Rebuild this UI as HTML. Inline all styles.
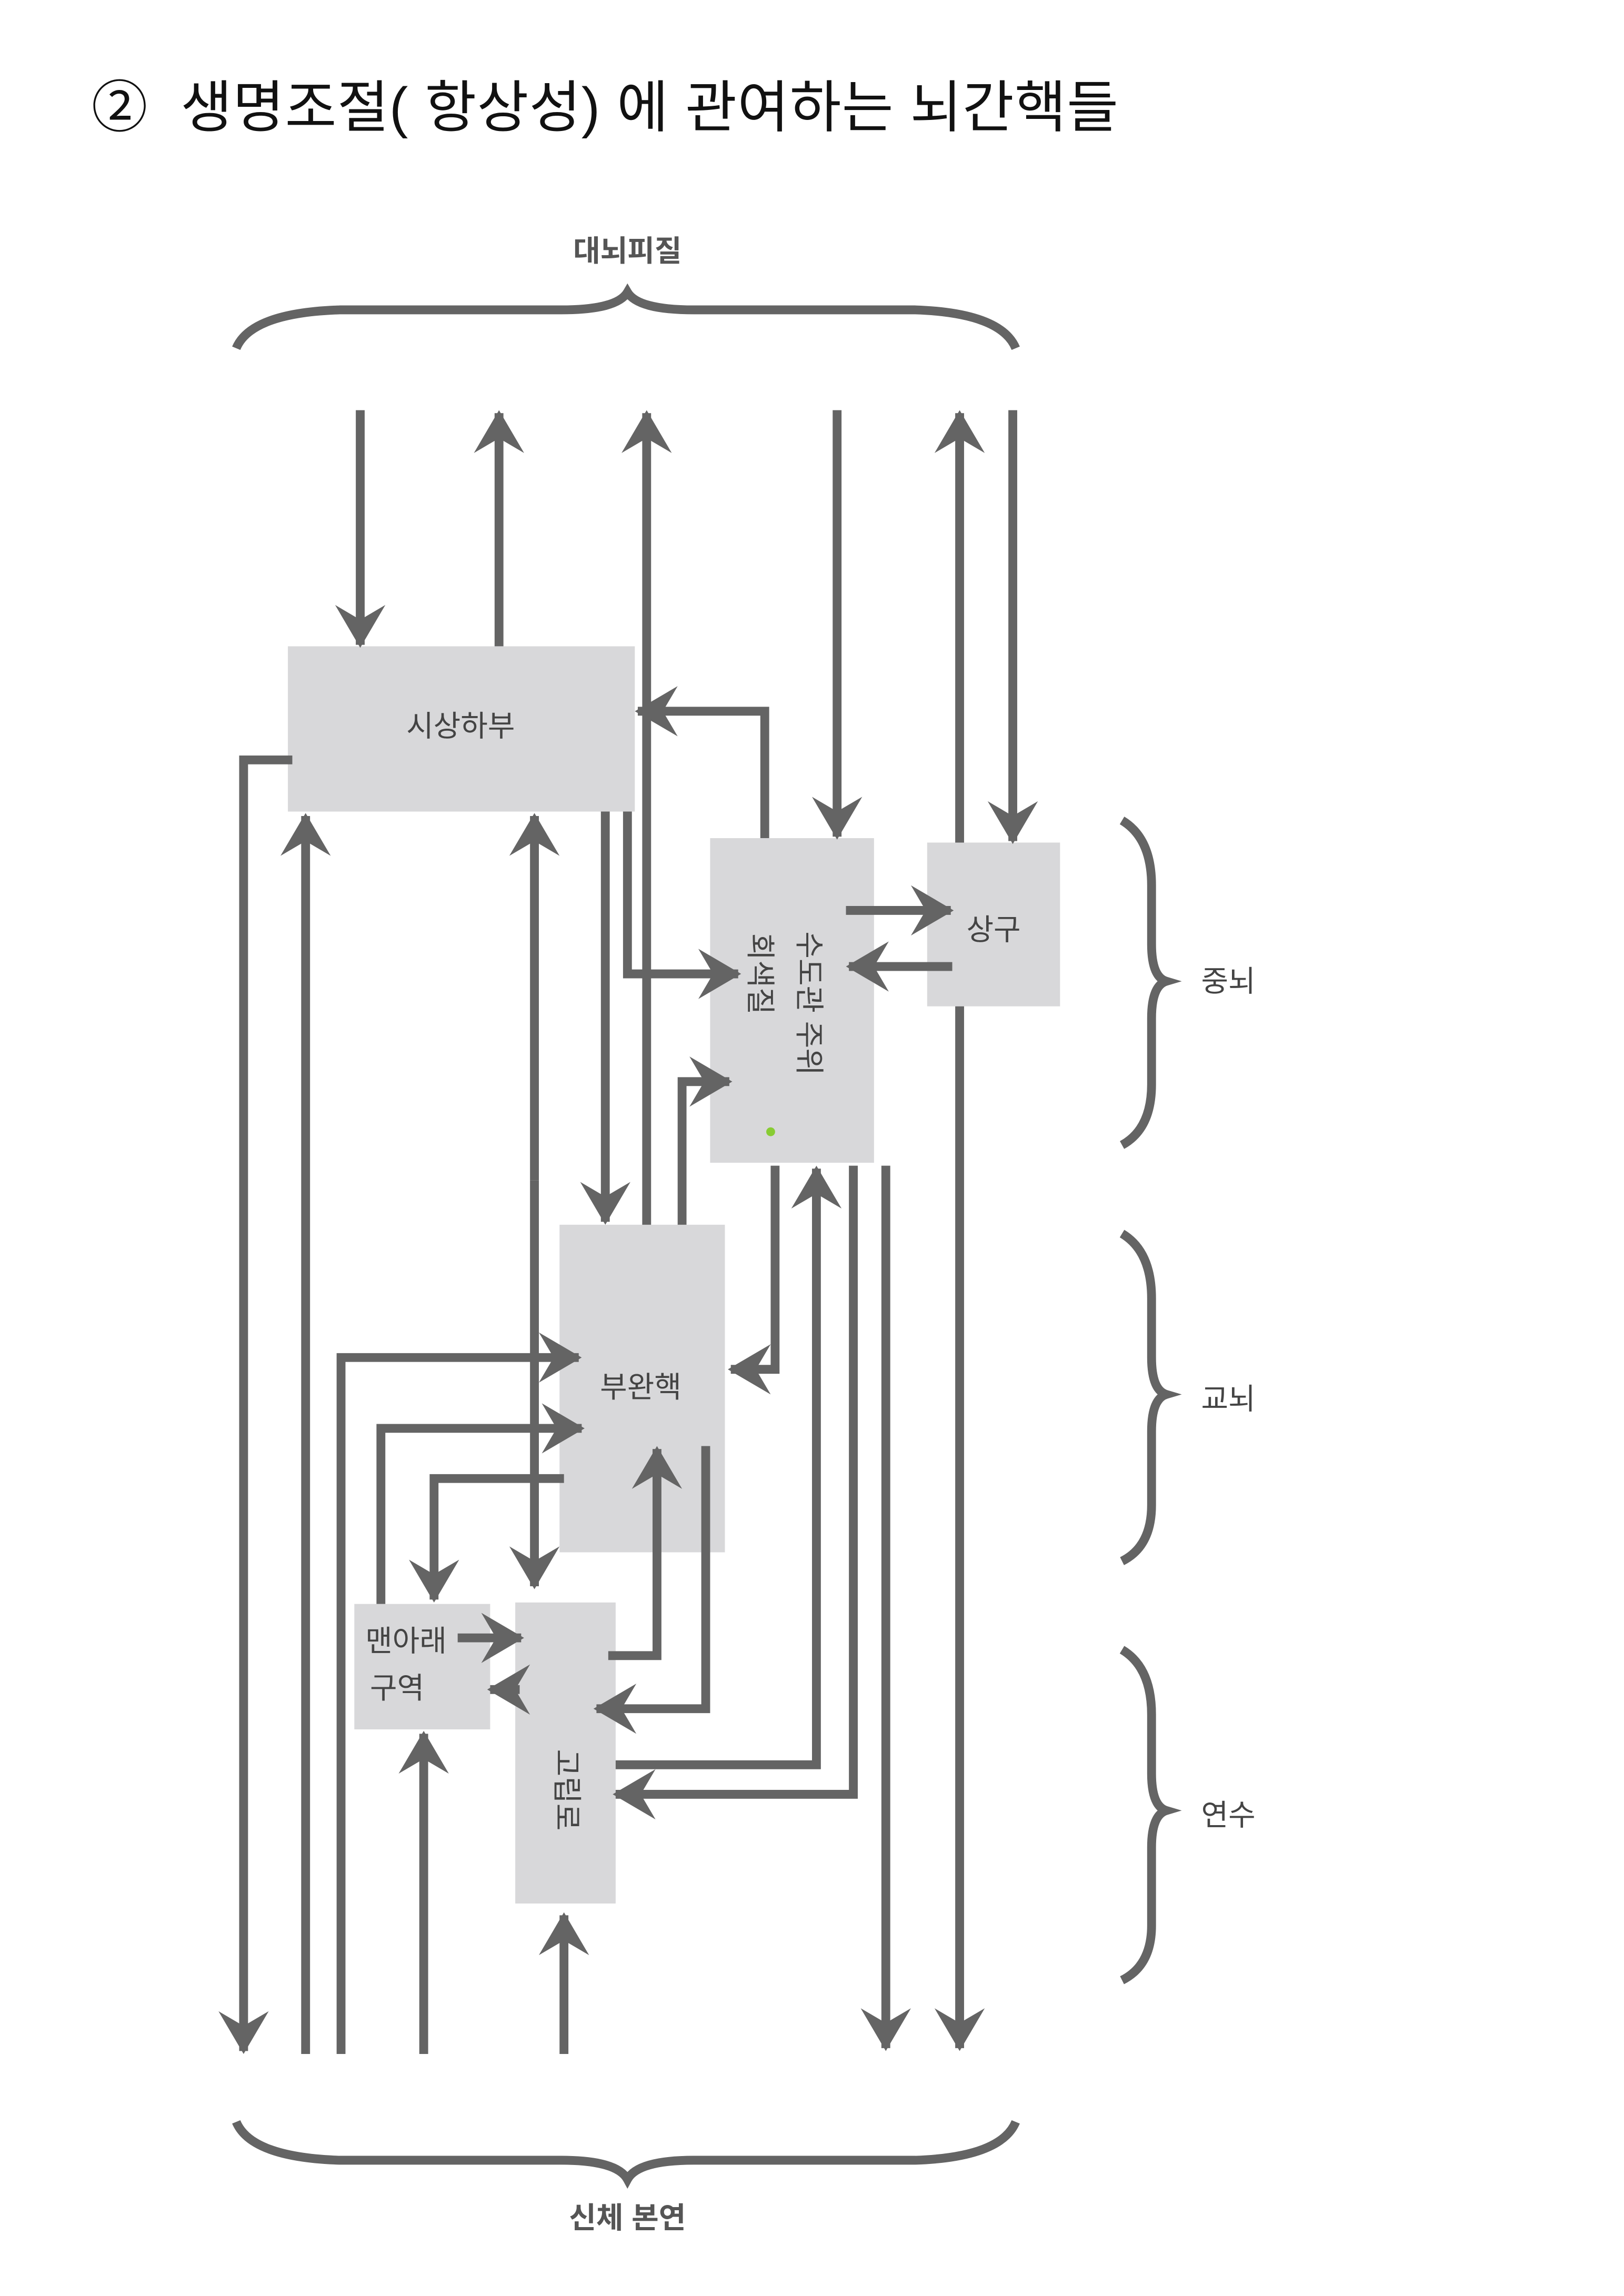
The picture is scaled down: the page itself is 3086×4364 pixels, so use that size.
<!DOCTYPE html>
<html><head><meta charset="utf-8"><style>
html,body{margin:0;padding:0;background:#fff;}
svg{display:block;}
text{font-family:"Liberation Sans","Noto Sans CJK KR",sans-serif;}
</style></head><body>
<svg width="3086" height="4364" viewBox="0 0 1100 1556" preserveAspectRatio="none" xmlns="http://www.w3.org/2000/svg">
<defs>
<marker id="a" markerUnits="userSpaceOnUse" markerWidth="50" markerHeight="50" viewBox="-35 -25 50 50" refX="0" refY="0" orient="auto">
<path d="M2,0 L-27,-17 L-17,0 L-27,17 Z" fill="#646464"/>
</marker>
</defs>
<text x="62" y="86" font-size="38" letter-spacing="0.4" fill="#111">② &#160;생명조절( 항상성) 에 관여하는 뇌간핵들</text>

<g fill="none" stroke="#646464" stroke-width="6">
<path d="M160,236 Q170,212 230,210 L380,210 Q418,210 425,198 Q432,210 470,210 L620,210 Q678,212 688,236"/>
<path d="M160,1438 Q170,1462 230,1464 L380,1464 Q418,1464 425,1477 Q432,1464 470,1464 L620,1464 Q678,1462 688,1438"/>
<path d="M760,556 Q780,568 780,600 L780,640 Q780,662 790,665 Q780,668 780,690 L780,735 Q780,765 760,776"/>
<path d="M760,836 Q780,848 780,880 L780,920 Q780,942 790,945 Q780,948 780,970 L780,1020 Q780,1048 760,1058"/>
<path d="M760,1118 Q780,1130 780,1162 L780,1202 Q780,1224 790,1227 Q780,1230 780,1252 L780,1305 Q780,1332 760,1342"/>
</g>

<g fill="#d8d8da">
<rect x="195" y="438" width="235" height="112"/>
<rect x="481" y="568" width="111" height="220"/>
<rect x="628" y="571" width="90" height="111"/>
<rect x="379" y="830" width="112" height="222"/>
<rect x="240" y="1087" width="92" height="85"/>
<rect x="349" y="1086" width="68" height="204"/>
</g>

<g fill="none" stroke="#646464" stroke-width="6" marker-end="url(#a)">
<path d="M244,278 L244,437"/>
<path d="M338,438 L338,280"/>
<path d="M438,830 L438,280"/>
<path d="M567,278 L567,567"/>
<path d="M650,571 L650,280"/>
<path d="M686,278 L686,570"/>
<path d="M650,682 L650,1388"/>
<path d="M600,790 L600,1388"/>
<path d="M198,515 L165,515 L165,1390"/>
<path d="M207,1392 L207,553"/>
<path d="M362,800 L362,553"/>
<path d="M362,800 L362,1075"/>
<path d="M410,550 L410,828"/>
<path d="M425,550 L425,660 L500,660"/>
<path d="M462,830 L462,733 L494,733"/>
<path d="M518,568 L518,482 L432,482"/>
<path d="M573,617 L644,617"/>
<path d="M645,655 L575,655"/>
<path d="M525,790 L525,928 L495,928"/>
<path d="M417,1196 L553,1196 L553,792"/>
<path d="M578,790 L578,1216 L417,1216"/>
<path d="M231,1392 L231,920 L392,920"/>
<path d="M258,1087 L258,968 L394,968"/>
<path d="M382,1002 L294,1002 L294,1084"/>
<path d="M310,1110 L353,1110"/>
<path d="M352,1145 L332,1145"/>
<path d="M412,1122 L445,1122 L445,982"/>
<path d="M478,980 L478,1158 L404,1158"/>
<path d="M287,1392 L287,1175"/>
<path d="M382,1392 L382,1298"/>
</g>

<g fill="#444" font-size="20" text-anchor="middle">
<text x="425" y="177" font-weight="bold" fill="#555">대뇌피질</text>
<text x="312" y="499">시상하부</text>
<text x="673" y="637">상구</text>
<text x="434" y="947">부완핵</text>
<text x="275" y="1119">맨아래</text>
<text x="269" y="1151">구역</text>
<text transform="translate(541,680) rotate(90)">수도관 주위</text>
<text transform="translate(508,660) rotate(90)">회색질</text>
<text transform="translate(377,1213) rotate(90)">고립로</text>
<text x="832" y="672">중뇌</text>
<text x="832" y="955">교뇌</text>
<text x="832" y="1237">연수</text>
<text x="425" y="1510" font-weight="bold" fill="#555">신체 본연</text>
</g>
<circle cx="522" cy="767" r="3" fill="#8c3"/>
</svg>
</body></html>
